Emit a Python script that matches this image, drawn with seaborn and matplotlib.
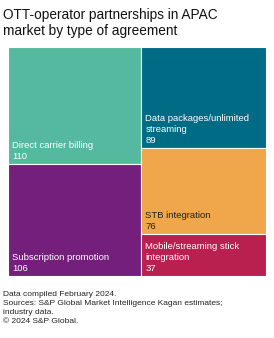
import matplotlib
matplotlib.use("Agg")
import matplotlib.pyplot as plt
from matplotlib.patches import Rectangle
import seaborn as sns

categories = ["Direct carrier billing", "Subscription promotion", "Data packages/unlimited\nstreaming",
              "STB integration", "Mobile/streaming stick\nintegration"]
values = [110, 106, 89, 76, 37]
colors = ["#55B99F", "#741F7C", "#006B84", "#F0A64B", "#B91F4F"]
text_colors = ["white", "white", "white", "#222222", "white"]

title = "OTT-operator partnerships in APAC\nmarket by type of agreement"
footer = ["Data compiled February 2024.",
          "Sources: S&P Global Market Intelligence Kagan estimates;",
          "industry data.",
          "\u00a9 2024 S&P Global."]

sns.set_theme(style="white")
plt.rcParams['font.family'] = ['Liberation Sans', 'DejaVu Sans']


def worst(row, side):
    s = sum(row)
    w = s / side
    return max(max(w / (r / w), (r / w) / w) for r in row)


def squarify(vals, x, y, w, h):
    total = sum(vals)
    scaled = [v * w * h / total for v in vals]
    rects = []
    i = 0
    while i < len(scaled):
        side = min(w, h)
        row = [scaled[i]]
        j = i + 1
        while j < len(scaled) and worst(row + [scaled[j]], side) <= worst(row, side):
            row.append(scaled[j])
            j += 1
        s = sum(row)
        if w >= h:  # column on left
            cw = s / h
            yy = y
            for r in row:
                rh = r / cw
                rects.append((x, yy, cw, rh))
                yy += rh
            x += cw
            w -= cw
        else:  # row on top
            rh = s / w
            xx = x
            for r in row:
                rw = r / rh
                rects.append((xx, y, rw, rh))
                xx += rw
            y += rh
            h -= rh
        i = j
    return rects


W, H = 274, 338
fig = plt.figure(figsize=(W / 100, H / 100), dpi=100)
ax = fig.add_axes([8 / W, 1 - 276 / H, 258 / W, 229 / H])
AW, AH = 258.0, 229.0
rects = squarify(values, 0, 0, AW, AH)
for (rx, ry, rw, rh), cat, val, c, tc in zip(rects, categories, values, colors, text_colors):
    ax.add_patch(Rectangle((rx, ry), rw, rh, facecolor=c, edgecolor="white", linewidth=0.8))
    ax.text(rx + 4, ry + rh - 3, f"{cat}\n{val}", color=tc, fontsize=6.8,
            ha="left", va="bottom", linespacing=1.28)
ax.set_xlim(0, AW)
ax.set_ylim(AH, 0)
ax.axis("off")

fig.text(3 / W, 1 - 8 / H, title, fontsize=9.8, color="#111111", ha="left", va="top",
         linespacing=1.15)
for k, line in enumerate(footer):
    fig.text(3 / W, 1 - (295 + k * 8.7) / H, line, fontsize=6.0, color="#222222",
             ha="left", va="center")

fig.savefig("out.png", dpi=100, facecolor="white")
